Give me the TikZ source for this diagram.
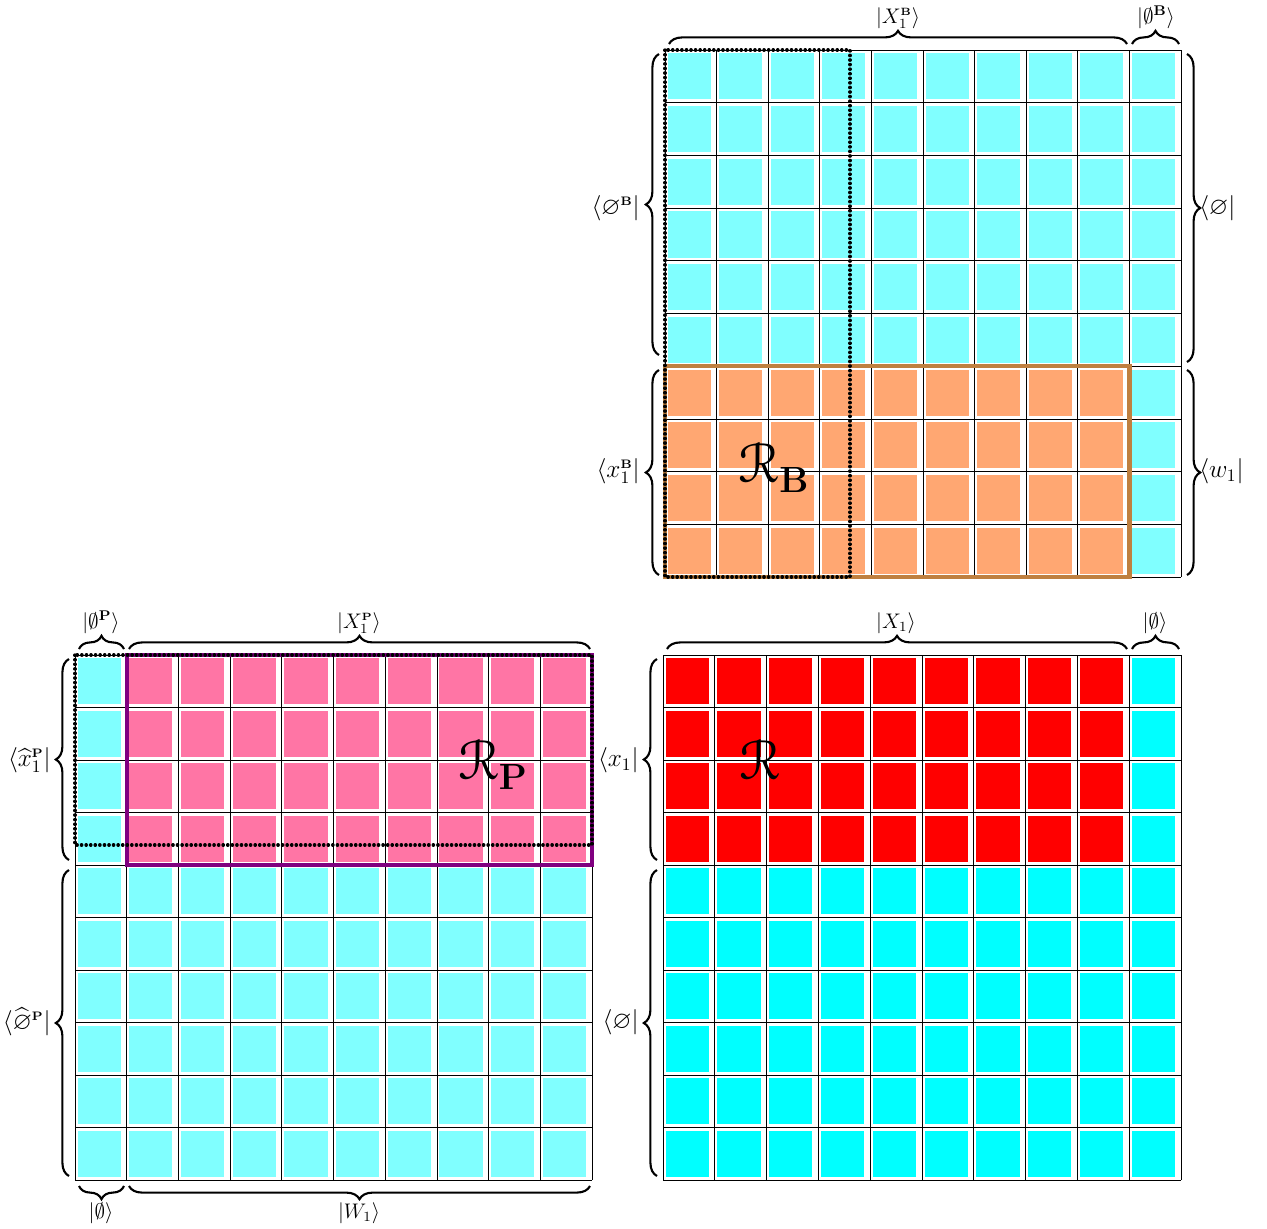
\documentclass[tikz,border=0pt]{standalone}
\usepackage{amsmath,amssymb}
\usepackage{eucal}
\usetikzlibrary{decorations.pathreplacing}
\definecolor{cellcyan}{RGB}{128,255,255}
\definecolor{cellorange}{RGB}{255,167,114}
\definecolor{cellpink}{RGB}{255,117,165}
\definecolor{cellred}{RGB}{255,0,0}
\definecolor{cellaqua}{RGB}{0,255,255}
\definecolor{rbrown}{RGB}{191,128,64}
\definecolor{rpurple}{RGB}{128,0,128}
\tikzset{
  x=0.02cm, y=-0.02cm,
  gridline/.style={line width=0.45pt, black},
  brc/.style={decorate, decoration={brace, amplitude=7.5pt}, line width=1.2pt},
  dotrect/.style={line width=1.9pt, line cap=round, dash pattern=on 0.2pt off 2.4pt},
  thickrect/.style={line width=2.4pt},
  toplab/.style={anchor=south, inner sep=0pt, font=\fontsize{11.5}{13}\selectfont},
  botlab/.style={anchor=north, inner sep=0pt, font=\fontsize{11.5}{13}\selectfont},
  leftlab/.style={anchor=east, inner sep=0pt, font=\fontsize{14}{16}\selectfont},
  rightlab/.style={anchor=west, inner sep=0pt, font=\fontsize{14}{16}\selectfont},
  biglab/.style={inner sep=0pt, font=\fontsize{32}{36}\selectfont}
}
\begin{document}
\begin{tikzpicture}
\useasboundingbox (0,0) rectangle (1267,1228);
% ================= Grid A (top right) =================
\foreach \i in {0,...,9}{\foreach \j in {0,...,9}{
  \def\cc{cellcyan}
  \ifnum\j>5 \ifnum\i<9 \def\cc{cellorange}\fi\fi
  \fill[fill=\cc] ({665+\i*51.6+2.5},{50+\j*52.7+3.3}) rectangle ({665+(\i+1)*51.6-6},{50+(\j+1)*52.7-3.3});
}}
\foreach \i in {0,...,10}{
  \draw[gridline] ({665+\i*51.6},50) -- ({665+\i*51.6},577);
  \draw[gridline] (665,{50+\i*52.7}) -- (1181,{50+\i*52.7});
}
\draw[thickrect, rbrown] (665,366.2) rectangle (1129.4,577);
\draw[dotrect] (665,50) rectangle (850,577);
\node[biglab] (RB) at (774,468) {$\mathcal{R}_{\mathbf{B}}$};
% braces A
\draw[brc] (669,44) -- (1127,44);
\draw[brc] (1132,44) -- (1179,44);
\draw[brc] (659,355) -- (659,54);
\draw[brc] (659,575) -- (659,370);
\draw[brc] (1187,54) -- (1187,362);
\draw[brc] (1187,370) -- (1187,575);
\node[toplab] (A1) at (898,29) {$|X_1^{\scriptscriptstyle\mathbf{B}}\rangle$};
\node[toplab] (A2) at (1156,29) {$|\emptyset^{\mathbf{B}}\rangle$};
\node[leftlab] (A3) at (640,208) {$\langle\varnothing^{\scriptscriptstyle\mathbf{B}}|$};
\node[leftlab] (A4) at (640,471) {$\langle x_1^{\scriptscriptstyle\mathbf{B}}|$};
\node[rightlab] (A5) at (1199,208) {$\langle\varnothing|$};
\node[rightlab] (A6) at (1199,471) {$\langle w_1|$};
% ================= Grid B (bottom left) =================
\foreach \i in {0,...,9}{\foreach \j in {0,...,9}{
  \def\cc{cellcyan}
  \ifnum\j<4 \ifnum\i>0 \def\cc{cellpink}\fi\fi
  \fill[fill=\cc] ({75+\i*51.7+2.5},{655+\j*52.5+3.3}) rectangle ({75+(\i+1)*51.7-6},{655+(\j+1)*52.5-3.3});
}}
\foreach \i in {0,...,10}{
  \draw[gridline] ({75+\i*51.7},655) -- ({75+\i*51.7},1180);
  \draw[gridline] (75,{655+\i*52.5}) -- (592,{655+\i*52.5});
}
\draw[thickrect, rpurple] (126.7,655) rectangle (592,865);
\draw[dotrect] (75,655) rectangle (592,845);
\node[biglab] (RP) at (493,765) {$\mathcal{R}_{\mathbf{P}}$};
% braces B
\draw[brc] (79,649) -- (124,649);
\draw[brc] (129,649) -- (590,649);
\draw[brc] (69,860) -- (69,659);
\draw[brc] (69,1176) -- (69,870);
\draw[brc] (124,1186) -- (79,1186);
\draw[brc] (590,1186) -- (129,1186);
\node[toplab] (B1) at (101,634) {$|\emptyset^{\mathbf{P}}\rangle$};
\node[toplab] (B2) at (359,634) {$|X_1^{\scriptscriptstyle\mathbf{P}}\rangle$};
\node[leftlab] (B3) at (51,760) {$\langle\widehat{x}_1^{\scriptscriptstyle\mathbf{P}}|$};
\node[leftlab] (B4) at (51,1022) {$\langle\widehat{\varnothing}^{\scriptscriptstyle\mathbf{P}}|$};
\node[botlab] (B5) at (101,1202) {$|\emptyset\rangle$};
\node[botlab] (B6) at (359,1202) {$|W_1\rangle$};
% ================= Grid C (bottom right) =================
\foreach \i in {0,...,9}{\foreach \j in {0,...,9}{
  \def\cc{cellaqua}
  \ifnum\j<4 \ifnum\i<9 \def\cc{cellred}\fi\fi
  \fill[fill=\cc] ({663+\i*51.8+2.5},{655+\j*52.5+3.3}) rectangle ({663+(\i+1)*51.8-6},{655+(\j+1)*52.5-3.3});
}}
\foreach \i in {0,...,10}{
  \draw[gridline] ({663+\i*51.8},655) -- ({663+\i*51.8},1180);
  \draw[gridline] (663,{655+\i*52.5}) -- (1181,{655+\i*52.5});
}
\node[biglab] (RC) at (760,760) {$\mathcal{R}$};
% braces C
\draw[brc] (667,649) -- (1127,649);
\draw[brc] (1132,649) -- (1179,649);
\draw[brc] (657,860) -- (657,659);
\draw[brc] (657,1176) -- (657,870);
\node[toplab] (C1) at (896,634) {$|X_1\rangle$};
\node[toplab] (C2) at (1155,634) {$|\emptyset\rangle$};
\node[leftlab] (C3) at (639,760) {$\langle x_1|$};
\node[leftlab] (C4) at (639,1022) {$\langle\varnothing|$};
\end{tikzpicture}
\end{document}
